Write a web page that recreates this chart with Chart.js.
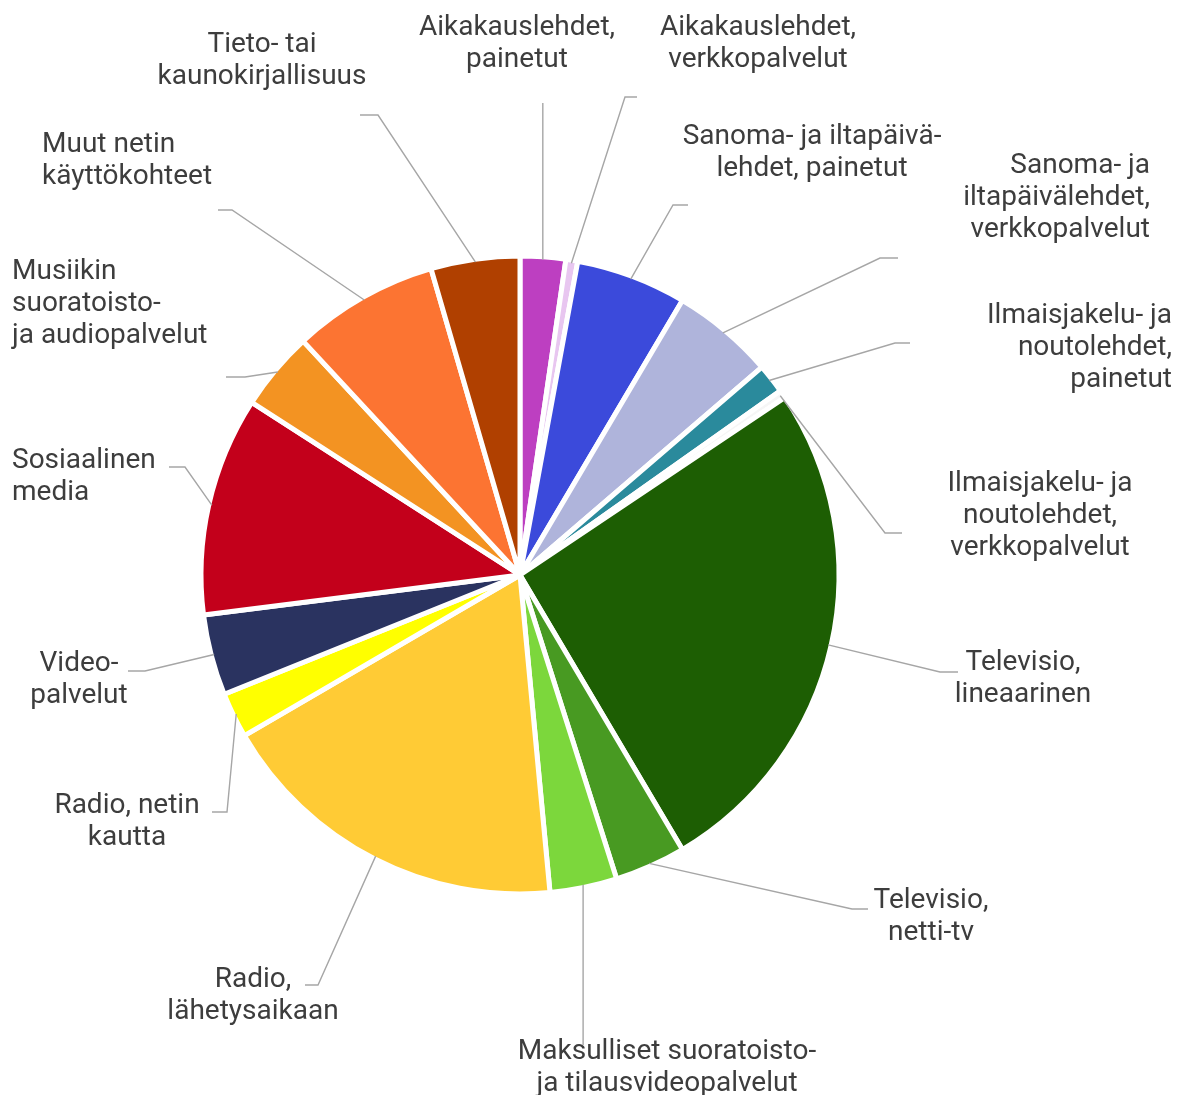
<!DOCTYPE html>
<html>
<head>
<meta charset="utf-8">
<script src="https://cdn.jsdelivr.net/npm/chart.js@4.4.1/dist/chart.umd.min.js"></script>
<style>
html,body{margin:0;padding:0;background:#fff;}
#wrap{width:1181px;height:1095px;position:relative;}
</style>
</head>
<body>
<div id="wrap"><canvas id="c" width="1181" height="1095"></canvas></div>
<script>
// ---- data ----
const categories = [
  ["Aikakauslehdet,", "painetut"],
  ["Aikakauslehdet,", "verkkopalvelut"],
  ["Sanoma- ja iltapäivä-", "lehdet, painetut"],
  ["Sanoma- ja", "iltapäivälehdet,", "verkkopalvelut"],
  ["Ilmaisjakelu- ja", "noutolehdet,", "painetut"],
  ["Ilmaisjakelu- ja", "noutolehdet,", "verkkopalvelut"],
  ["Televisio,", "lineaarinen"],
  ["Televisio,", "netti-tv"],
  ["Maksulliset suoratoisto-", "ja tilausvideopalvelut"],
  ["Radio,", "lähetysaikaan"],
  ["Radio, netin", "kautta"],
  ["Video-", "palvelut"],
  ["Sosiaalinen", "media"],
  ["Musiikin", "suoratoisto-", "ja audiopalvelut"],
  ["Muut netin", "käyttökohteet"],
  ["Tieto- tai", "kaunokirjallisuus"]
];
const shares = [2.3, 0.6, 5.6, 5.2, 1.5, 0.4, 25.9, 3.6, 3.4, 18.1, 2.3, 4.1, 11.1, 4.0, 7.4, 4.5];
const colors = ["#BD3FC1", "#E8C6F0", "#3B4ADB", "#AFB4DB", "#2A8A9C", "#F6F6F6",
  "#1D5E03", "#489A22", "#7CD73C", "#FFCB35", "#FFFF00", "#2A3360",
  "#C3001B", "#F39322", "#FC7432", "#B04000"];

// ---- label layout (text anchor + leader elbow) ----
// [textX, firstLineY, align, elbowX(null = straight from slice), elbowY, endX]
const labelLayout = [
  [517, 28, "center", null, 103, null],
  [758, 28, "center", 625, 97, 637],
  [812, 137, "center", 673, 205, 688],
  [1150, 166, "right", 880, 258, 898],
  [1172, 316, "right", 895, 343, 910],
  [1040, 484, "center", 885, 533, 902],
  [1023, 663, "center", 940, 672, 958],
  [931, 901, "center", 852, 909, 868],
  [667, 1052, "center", null, 1045, null],
  [253, 980, "center", 318, 985, 305],
  [127, 806, "center", 227, 812, 212],
  [79, 664, "center", 145, 671, 128],
  [12, 461, "left", 185, 467, 169],
  [12, 272, "left", 245, 377, 226],
  [42, 145, "left", 232, 210, 218],
  [262, 45, "center", 378, 115, 360]
];
const lineHeight = 32;

const outsideLabels = {
  id: 'outsideLabels',
  afterDatasetsDraw(chart) {
    const ctx = chart.ctx;
    const arcs = chart.getDatasetMeta(0).data;
    ctx.save();
    ctx.strokeStyle = '#a6a6a6';
    ctx.lineWidth = 1.4;
    arcs.forEach((arc, i) => {
      const p = arc.getProps(['x', 'y', 'startAngle', 'endAngle', 'outerRadius']);
      const mid = (p.startAngle + p.endAngle) / 2;
      const r = p.outerRadius - 3;
      const sx = p.x + Math.cos(mid) * r;
      const sy = p.y + Math.sin(mid) * r;
      const L = labelLayout[i];
      ctx.beginPath();
      ctx.moveTo(sx, sy);
      if (L[3] === null) {
        ctx.lineTo(sx, L[4]);
      } else {
        ctx.lineTo(L[3], L[4]);
        ctx.lineTo(L[5], L[4]);
      }
      ctx.stroke();
    });
    ctx.fillStyle = '#3d3d3d';
    ctx.font = '28px Roboto, "Liberation Sans", Arial, sans-serif';
    ctx.textBaseline = 'middle';
    categories.forEach((lines, i) => {
      const L = labelLayout[i];
      ctx.textAlign = L[2];
      lines.forEach((t, k) => ctx.fillText(t, L[0], L[1] + k * lineHeight));
    });
    ctx.restore();
  }
};

new Chart(document.getElementById('c'), {
  type: 'pie',
  data: {
    labels: categories.map(l => l.join(' ')),
    datasets: [{
      data: shares,
      backgroundColor: colors,
      borderColor: '#ffffff',
      borderWidth: 5
    }]
  },
  options: {
    responsive: false,
    animation: false,
    radius: 319,
    layout: { padding: { left: 0, right: 141, top: 55, bottom: 0 } },
    plugins: {
      legend: { display: false },
      tooltip: { enabled: false }
    }
  },
  plugins: [outsideLabels]
});
</script>
</body>
</html>
